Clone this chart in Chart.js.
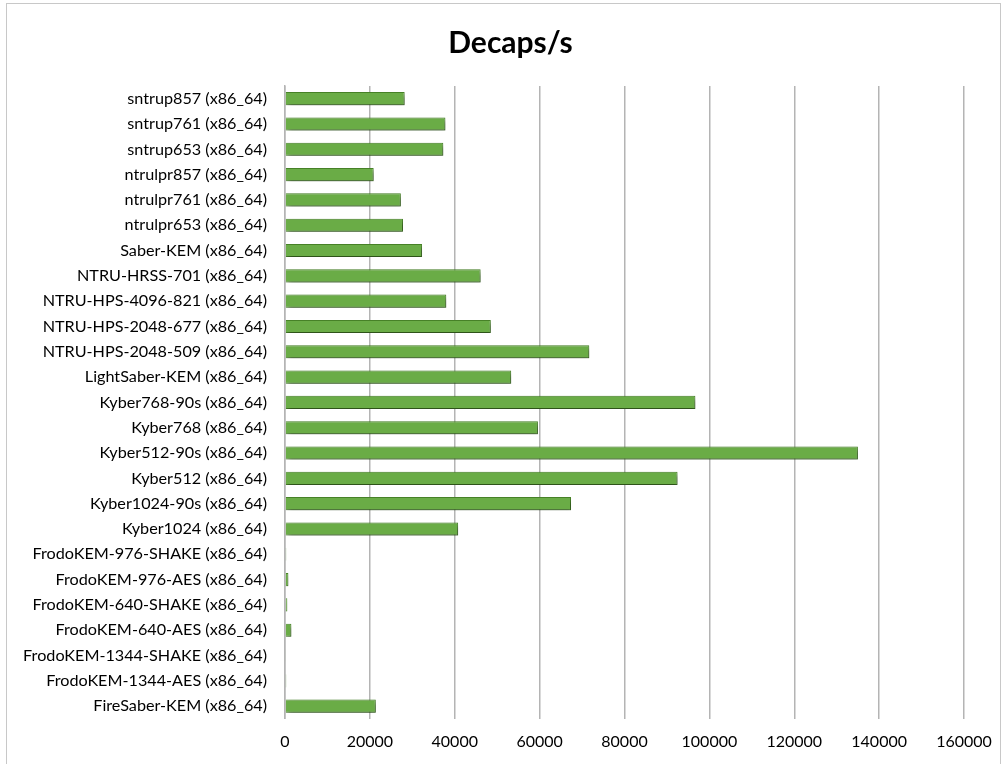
<!DOCTYPE html>
<html>
<head>
<meta charset="utf-8">
<script src="https://cdn.jsdelivr.net/npm/chart.js@4/dist/chart.umd.min.js"></script>
<style>
    html, body { margin: 0; padding: 0; background: #fff; }
    #wrap { position: relative; width: 1005px; height: 764px; }
    #frame { position: absolute; left: 6px; top: 3px; width: 993px; height: 780px; border: 1px solid #c8c8c8; }
    canvas { position: absolute; left: 0; top: 0; }
</style>
</head>
<body>
<div id="wrap">
    <div id="frame"></div>
    <canvas id="chart" width="1005" height="764"></canvas>
</div>
<script>
// Categories, top to bottom
const labels = [
    "sntrup857 (x86_64)",
    "sntrup761 (x86_64)",
    "sntrup653 (x86_64)",
    "ntrulpr857 (x86_64)",
    "ntrulpr761 (x86_64)",
    "ntrulpr653 (x86_64)",
    "Saber-KEM (x86_64)",
    "NTRU-HRSS-701 (x86_64)",
    "NTRU-HPS-4096-821 (x86_64)",
    "NTRU-HPS-2048-677 (x86_64)",
    "NTRU-HPS-2048-509 (x86_64)",
    "LightSaber-KEM (x86_64)",
    "Kyber768-90s (x86_64)",
    "Kyber768 (x86_64)",
    "Kyber512-90s (x86_64)",
    "Kyber512 (x86_64)",
    "Kyber1024-90s (x86_64)",
    "Kyber1024 (x86_64)",
    "FrodoKEM-976-SHAKE (x86_64)",
    "FrodoKEM-976-AES (x86_64)",
    "FrodoKEM-640-SHAKE (x86_64)",
    "FrodoKEM-640-AES (x86_64)",
    "FrodoKEM-1344-SHAKE (x86_64)",
    "FrodoKEM-1344-AES (x86_64)",
    "FireSaber-KEM (x86_64)"
];

// Decapsulations per second
const decaps = [
    28200, 37800, 37300, 20900, 27300, 27800, 32300, 46100, 38000, 48500,
    71700, 53300, 96700, 59600, 135000, 92500, 67400, 40800,
    300, 800, 550, 1500, 150, 300, 21400
];

const chartTitle = "Decaps/s";

// Axis ticks
const xMax = 160000;
const xStep = 20000;

const BAR_FILL   = "#6aac46";
const BAR_EDGE   = "#4a8629";
const GRID_COLOR = "#b4b4b4";
const FONT = "Lato, 'Open Sans', sans-serif";

// soft drop shadow under the bars
const barShadow = {
    id: "barShadow",
    beforeDatasetsDraw(chart) {
        const ctx = chart.ctx;
        ctx.save();
        ctx.shadowColor = "rgba(0,0,0,0.45)";
        ctx.shadowBlur = 5;
        ctx.shadowOffsetX = 2;
        ctx.shadowOffsetY = 3;
    },
    afterDatasetsDraw(chart) {
        chart.ctx.restore();
    }
};

// title centred on the whole chart frame, not on the layout box
const frameTitle = {
    id: "frameTitle",
    afterDraw(chart) {
        const ctx = chart.ctx;
        ctx.save();
        ctx.font = "bold 30px " + FONT;
        ctx.fillStyle = "#000";
        ctx.textAlign = "center";
        ctx.textBaseline = "alphabetic";
        ctx.fillText(chartTitle, chart.width / 2 + 8, 53);
        ctx.restore();
    }
};

new Chart(document.getElementById("chart"), {
    type: "bar",
    data: {
        labels: labels,
        datasets: [{
            label: chartTitle,
            data: decaps,
            backgroundColor: BAR_FILL,
            borderColor: BAR_EDGE,
            borderWidth: 1,
            categoryPercentage: 1.0,
            barPercentage: 0.52
        }]
    },
    plugins: [barShadow, frameTitle],
    options: {
        indexAxis: "y",
        responsive: false,
        animation: false,
        layout: {
            padding: { left: 0, right: 41, top: 86, bottom: 0 }
        },
        plugins: {
            legend: { display: false },
            tooltip: { enabled: false },
            title: { display: false }
        },
        scales: {
            x: {
                min: 0,
                max: xMax,
                ticks: {
                    stepSize: xStep,
                    color: "#000",
                    font: { family: FONT, size: 16 },
                    padding: 13,
                    maxRotation: 0,
                    callback: (v) => String(v)
                },
                grid: {
                    color: GRID_COLOR,
                    lineWidth: 1.5,
                    drawTicks: false
                },
                border: { display: false }
            },
            y: {
                afterFit(scale) { scale.width = 285; },
                ticks: {
                    color: "#000",
                    font: { family: FONT, size: 16.2 },
                    padding: 18,
                    autoSkip: false
                },
                grid: { display: false, drawTicks: false },
                border: { display: true, color: GRID_COLOR, width: 1.5 }
            }
        }
    }
});
</script>
</body>
</html>
